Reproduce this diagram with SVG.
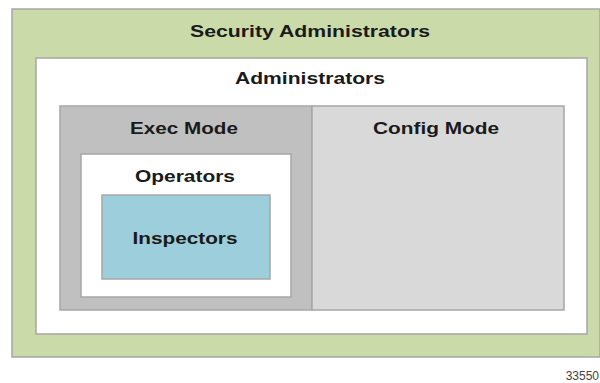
<svg xmlns="http://www.w3.org/2000/svg" width="600" height="383" viewBox="0 0 600 383">
<style>
.box{stroke:#a6a6a6;stroke-width:1.5}
.lbl{font-family:"Liberation Sans",Arial,sans-serif;font-weight:bold;font-size:17px;fill:#1a1a1a;text-anchor:middle}
.num{font-family:"Liberation Sans",Arial,sans-serif;font-size:12px;fill:#444;text-anchor:end}
</style>
<rect width="600" height="383" fill="#ffffff"/>
<g id="security-administrators">
<rect class="box" x="12" y="9" width="588" height="348" fill="#cbdaa9"/>
<text class="lbl" x="310" y="37" textLength="240" lengthAdjust="spacingAndGlyphs">Security Administrators</text>
</g>
<g id="administrators">
<rect class="box" x="36" y="58" width="551" height="276" fill="#ffffff"/>
<text class="lbl" x="310" y="84" textLength="150" lengthAdjust="spacingAndGlyphs">Administrators</text>
</g>
<g id="exec-mode">
<rect class="box" x="60" y="106" width="252" height="204" fill="#c0c0c0"/>
<text class="lbl" x="184" y="134" textLength="108" lengthAdjust="spacingAndGlyphs">Exec Mode</text>
</g>
<g id="config-mode">
<rect class="box" x="312" y="106" width="252" height="204" fill="#d9d9d9"/>
<text class="lbl" x="436" y="134" textLength="126" lengthAdjust="spacingAndGlyphs">Config Mode</text>
</g>
<g id="operators">
<rect class="box" x="81" y="154" width="210" height="143" fill="#ffffff"/>
<text class="lbl" x="185" y="182" textLength="100" lengthAdjust="spacingAndGlyphs">Operators</text>
</g>
<g id="inspectors">
<rect class="box" x="102" y="195" width="168" height="84" fill="#9ccfdb"/>
<text class="lbl" x="185" y="244" textLength="105" lengthAdjust="spacingAndGlyphs">Inspectors</text>
</g>
<g id="connectors"></g>
<text class="num" x="599" y="380">33550</text>
</svg>
